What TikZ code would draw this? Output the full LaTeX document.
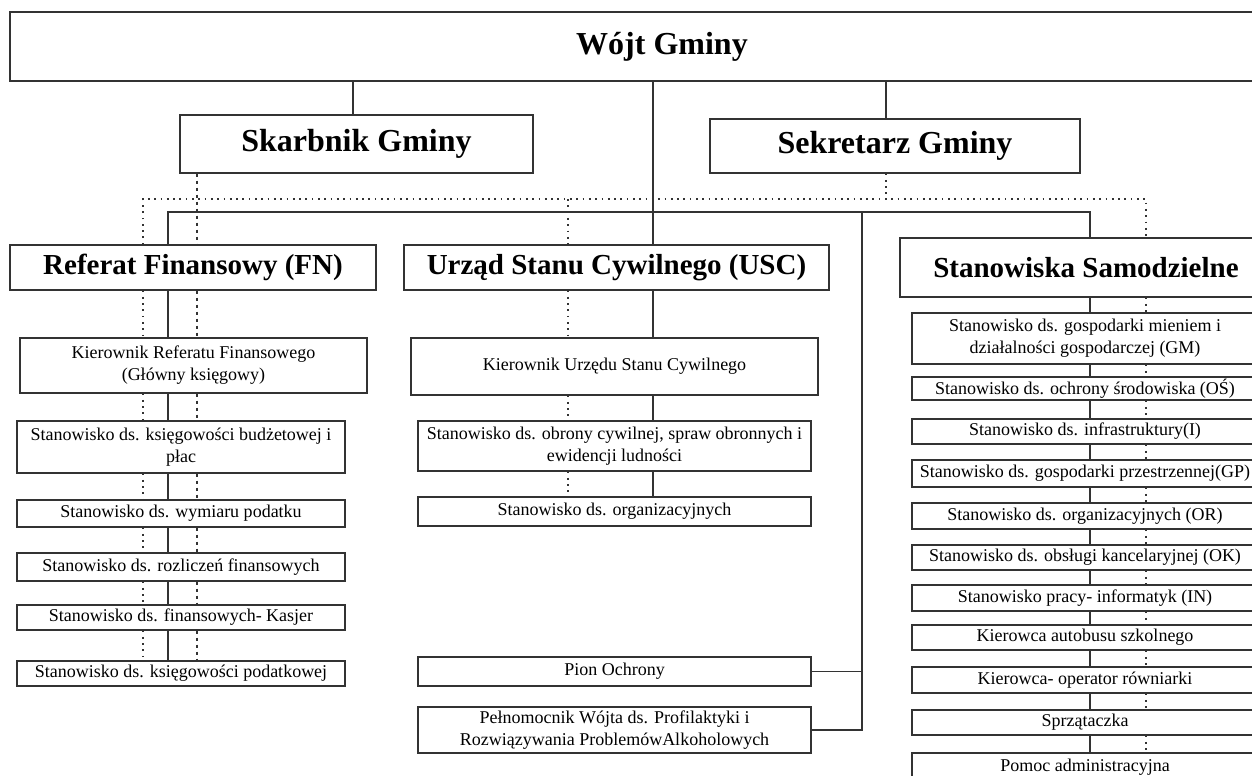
\documentclass[tikz,border=0pt]{standalone}
\usepackage{fontspec}
\setmainfont{Liberation Serif}
\usetikzlibrary{calc}
\usetikzlibrary{positioning}

\begin{document}
\begin{tikzpicture}[
	x=1bp, y=-1bp,
	every node/.style={inner sep=0pt},
	wh/.style 2 args = {minimum width=#1bp, minimum height=#2bp},
	box/.style = {draw=black!80, line width=1.1bp, fill=white, align=center, font=\fontsize{18bp}{22bp}\selectfont},
	head/.style = {box, font=\fontsize{32bp}{36bp}\selectfont\bfseries},
	sect/.style = {box, font=\fontsize{29bp}{34bp}\selectfont\bfseries},
	link/.style = {draw=black!80, line width=1.1bp},
	dots/.style = {draw=black!80, line width=1.7bp, dash pattern=on 1.7bp off 4.6bp},
	bigdots/.style = {draw=black!80, line width=2.2bp, dash pattern=on 3bp off 4bp}
  ]
	\fill[white] (0,0) rectangle (1252,776);
	\useasboundingbox (0,0) rectangle (1252,776);
	\clip (0,0) rectangle (1252,776);

	\coordinate (xDotL) at (143,0);
	\coordinate (xSolL) at (168,0);
	\coordinate (xSkarb) at (197,0);
	\coordinate (xSkarbTop) at (353,0);
	\coordinate (xDotM) at (568,0);
	\coordinate (xTrunk) at (653,0);
	\coordinate (xSide) at (862,0);
	\coordinate (xSekr) at (886,0);
	\coordinate (xSolR) at (1090,0);
	\coordinate (xDotR) at (1146,0);
	\coordinate (hDot) at (0,199);
	\coordinate (hSol) at (0,212);

	\node[head, wh={1304}{69}] (wojt) at (662,46.5) {Wójt Gminy};
	\node[head, wh={353}{58}] (skarbnik) at (356.5,144) {Skarbnik Gminy};
	\node[head, wh={370}{54}] (sekretarz) at (895,146) {Sekretarz Gminy};

	\node[sect, wh={366}{45}] (refFN) at (193,267.5) {Referat Finansowy (FN)};
	\node[sect, wh={425}{45}] (usc) at (616.5,267.5) {Urząd Stanu Cywilnego (USC)};
	\node[sect, wh={372}{59}] (samodz) at (1086,267.5) {Stanowiska Samodzielne};

	\node[box, wh={347}{55}] (fn1) at (193.5,365.5) {Kierownik Referatu Finansowego\\(Główny księgowy)};
	\node[box, wh={328}{52}] (fn2) at (181,447) {Stanowisko ds. księgowości budżetowej i\\płac};
	\node[box, wh={328}{27}] (fn3) at (181,513.5) {Stanowisko ds. wymiaru podatku};
	\node[box, wh={328}{28}] (fn4) at (181,567) {Stanowisko ds. rozliczeń finansowych};
	\node[box, wh={328}{25}] (fn5) at (181,617.5) {Stanowisko ds. finansowych- Kasjer};
	\node[box, wh={328}{25}] (fn6) at (181,673.5) {Stanowisko ds. księgowości podatkowej};

	\node[box, wh={407}{57}] (usc1) at (614.5,366.5) {Kierownik Urzędu Stanu Cywilnego};
	\node[box, wh={393}{50}] (usc2) at (614.5,446) {Stanowisko ds. obrony cywilnej, spraw obronnych i\\ewidencji ludności};
	\node[box, wh={393}{29}] (usc3) at (614.5,511.5) {Stanowisko ds. organizacyjnych};
	\node[box, wh={393}{29}] (pion) at (614.5,671.5) {Pion Ochrony};
	\node[box, wh={393}{46}] (pelnom) at (614.5,730) {Pełnomocnik Wójta ds. Profilaktyki i\\Rozwiązywania ProblemówAlkoholowych};

	\foreach \n/\yc/\h/\t in {
		s1/338.5/51/{Stanowisko ds. gospodarki mieniem i\\działalności gospodarczej (GM)},
		s2/388.5/23/{Stanowisko ds. ochrony środowiska (OŚ)},
		s3/431.5/25/{Stanowisko ds. infrastruktury(I)},
		s4/473.5/27/{Stanowisko ds. gospodarki przestrzennej(GP)},
		s5/516/26/{Stanowisko ds. organizacyjnych (OR)},
		s6/557.5/25/{Stanowisko ds. obsługi kancelaryjnej (OK)},
		s7/598/26/{Stanowisko pracy- informatyk (IN)},
		s8/637.5/25/{Kierowca autobusu szkolnego},
		s9/680/26/{Kierowca- operator równiarki},
		s10/722.5/25/{Sprzątaczka},
		s11/767/28/{Pomoc administracyjna}}
		\node[box, wh={346}{\h}] (\n) at (1085,\yc) {\t};

	\draw[link] (wojt.south -| xSkarbTop) -- (skarbnik.north -| xSkarbTop);
	\draw[link] (wojt.south -| xSekr) -- (sekretarz.north -| xSekr);
	\draw[link] (wojt.south -| xTrunk) -- (usc.north -| xTrunk);
	\draw[link] (refFN.north -| xSolL) |- (hSol -| xSolR) -- (samodz.north -| xSolR);
	\draw[link] (hSol -| xSide) |- (pion.east);
	\draw[link] (hSol -| xSide) |- (pelnom.east);

	\draw[dots] (sekretarz.south -| xSekr) -- (hDot -| xSekr);
	\draw[dots] (refFN.north -| xDotL) |- (hDot -| xDotR) -- (samodz.north -| xDotR);
	\draw[dots] (hDot -| xDotM) -- (usc.north -| xDotM);
	\draw[bigdots] (skarbnik.south -| xSkarb) -- (refFN.north -| xSkarb);

	\foreach \a/\b in {refFN/fn1,fn1/fn2,fn2/fn3,fn3/fn4,fn4/fn5,fn5/fn6} {
		\draw[dots] (\a.south -| xDotL) -- (\b.north -| xDotL);
		\draw[link] (\a.south -| xSolL) -- (\b.north -| xSolL);
		\draw[bigdots] (\a.south -| xSkarb) -- (\b.north -| xSkarb);
	}
	\foreach \a/\b in {usc/usc1,usc1/usc2,usc2/usc3} {
		\draw[dots] (\a.south -| xDotM) -- (\b.north -| xDotM);
		\draw[link] (\a.south -| xTrunk) -- (\b.north -| xTrunk);
	}
	\foreach \a/\b in {samodz/s1,s1/s2,s2/s3,s3/s4,s4/s5,s5/s6,s6/s7,s7/s8,s8/s9,s9/s10,s10/s11} {
		\draw[link] (\a.south -| xSolR) -- (\b.north -| xSolR);
		\draw[dots] (\a.south -| xDotR) -- (\b.north -| xDotR);
	}

\end{tikzpicture}
\end{document}
